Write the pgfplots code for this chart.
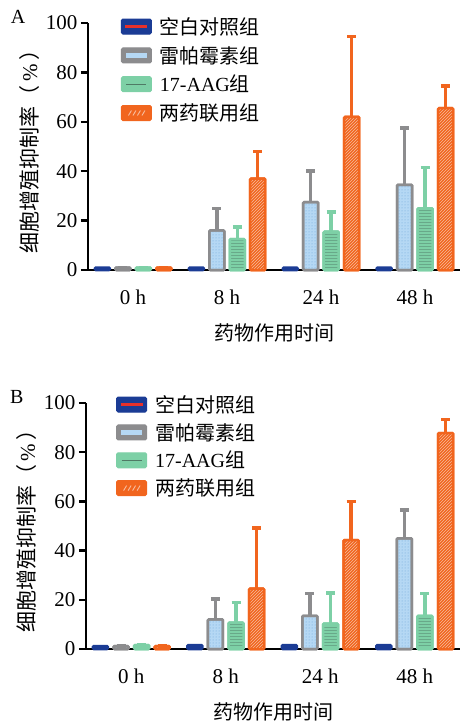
\documentclass[border=0pt]{standalone}
\usepackage{fontspec}
\setmainfont{Liberation Serif}
\newfontfamily\cjk{Noto Sans CJK SC}
\usepackage{pgfplots}
\usepackage{pgfplotstable}
\pgfplotsset{compat=1.18}
\usetikzlibrary{patterns}

\definecolor{cblue}{HTML}{1B3C95}
\definecolor{cred}{HTML}{E8312A}
\definecolor{cgrey}{HTML}{8C8C8E}
\definecolor{clblue}{HTML}{B5D8F4}
\definecolor{cdots}{HTML}{6FA6DA}
\definecolor{cgreen}{HTML}{7DD0A6}
\definecolor{cdgreen}{HTML}{4F7A65}
\definecolor{corange}{HTML}{F1651E}
\definecolor{chatch}{HTML}{F7BC9E}

\pgfplotstableread{
x blank rapa rapaE aag aagE combo comboE
0 1   1  0   1  0   1  0
1 1   16 9   12.5 5 37 11
2 1   27.5 12.5 15.5 8 62 32.5
3 1   34.5 23  25 16.5 65.5 9
}\dataA

\pgfplotstableread{
x blank rapa rapaE aag aagE combo comboE
0 1.2 1.2 0  1.6 0  1.2 0
1 1.6 12 8.3 10.7 8.3 24.5 24.7
2 1.6 13.5 9  10.3 12.5 44.3 15.7
3 1.6 45 11.5 13.5 9 87.8 5.5
}\dataB

\newcommand\fs{\fontsize{20}{23}\selectfont}
\newcommand\fst{\fontsize{21}{24}\selectfont}
\newcommand\fsl{\fontsize{21}{24}\selectfont}

\pgfplotsset{
  common/.style={
    anchor=south west, scale only axis, clip=false,
    ymin=0, ymax=100, xmin=-0.48, xmax=3.48,
    axis x line=bottom, axis y line=left,
    axis line style={-, line width=2.5pt},
    ytick={0,20,...,100}, xtick={0,1,2,3},
    xticklabels={0 h, 8 h, 24 h, 48 h},
    major tick length=7pt, tick align=outside,
    y tick style={line width=2.5pt, black},
    x tick style={draw=none},
    xticklabel style={yshift=-9pt},
    font=\fs, tick label style={font=\fst},
    /pgf/number format/assume math mode=true,
    xlabel={\cjk 药物作用时间},
    ylabel={{\cjk 细胞增殖抑制率（}\,\%\,{\cjk ）}},
    xlabel style={at={(axis description cs:0.5,-0.255)}, anchor=center},
    ylabel style={at={(axis description cs:-0.158,0.5)}, anchor=center, font=\fsl},
    legend style={draw=none, fill=none, anchor=north west, inner sep=0pt,
      row sep=6.5pt, font=\fs, legend cell align=left,
      nodes={inner xsep=8pt}},
    legend cell align=left,
  },
  ebar/.style={
    error bars/y dir=plus, error bars/y explicit,
    error bars/error bar style={#1, line width=3.5pt},
    error bars/error mark options={#1, rotate=90, line width=3.5pt, mark size=4.5pt}},
  barbase/.style={ybar, bar width=15pt, bar shift=0pt, line width=2.5pt, rounded corners=1pt, forget plot},
  blankst/.style={barbase, fill=cblue, draw=cblue},
  rapast/.style={barbase, fill=clblue, draw=cgrey,
    postaction={pattern=dots, pattern color=cdots}, ebar=cgrey},
  aagst/.style={barbase, fill=cgreen, draw=cgreen,
    postaction={pattern=horizontal lines, pattern color=cdgreen!45!cgreen}, ebar=cgreen},
  combost/.style={barbase, fill=corange, draw=corange,
    postaction={pattern=north east lines, pattern color=chatch}, ebar=corange},
  legblank/.style={legend image code/.code={
      \draw[fill=cblue,draw=cblue,line width=1pt,rounded corners=1.5pt] (0pt,-7.5pt) rectangle (30pt,7.5pt);
      \draw[cred,line width=3pt] (4pt,0pt)--(26pt,0pt);}},
  legrapa/.style={legend image code/.code={
      \draw[fill=cgrey,draw=cgrey,line width=1pt,rounded corners=1.5pt] (0pt,-7.5pt) rectangle (30pt,7.5pt);
      \fill[clblue] (5pt,-2pt) rectangle (25pt,2pt);}},
  legaag/.style={legend image code/.code={
      \draw[fill=cgreen,draw=cgreen,line width=1pt,rounded corners=1.5pt] (0pt,-7.5pt) rectangle (30pt,7.5pt);
      \draw[cdgreen,line width=1.3pt] (5pt,0pt)--(25pt,0pt);}},
  legcombo/.style={legend image code/.code={
      \draw[fill=corange,draw=corange,line width=1pt,rounded corners=1.5pt] (0pt,-7.5pt) rectangle (30pt,7.5pt);
      \draw[chatch,line width=0.9pt] (7pt,-2.5pt)--(10pt,2.5pt) (11.5pt,-2.5pt)--(14.5pt,2.5pt)
        (16pt,-2.5pt)--(19pt,2.5pt) (20.5pt,-2.5pt)--(23.5pt,2.5pt);}},
}

\begin{document}
\begin{tikzpicture}
\path[use as bounding box] (0pt,0pt) rectangle (460pt,-721pt);

\begin{axis}[common, at={(88pt,-270pt)}, width=372pt, height=247pt,
  legend style={at={(axis description cs:0.088,1.032)}}]
\addplot[blankst] table[x expr=\thisrow{x}-0.327,y=blank]{\dataA};
\addplot[rapast] table[x expr=\thisrow{x}-0.109,y=rapa,y error=rapaE]{\dataA};
\addplot[aagst] table[x expr=\thisrow{x}+0.109,y=aag,y error=aagE]{\dataA};
\addplot[combost] table[x expr=\thisrow{x}+0.327,y=combo,y error=comboE]{\dataA};
\addlegendimage{legblank}\addlegendentry{{\cjk 空白对照组}}
\addlegendimage{legrapa}\addlegendentry{{\cjk 雷帕霉素组}}
\addlegendimage{legaag}\addlegendentry{17-AAG{\cjk 组}}
\addlegendimage{legcombo}\addlegendentry{{\cjk 两药联用组}}
\node[anchor=center, font=\fs] at (axis description cs:-0.188,1.024) {A};
\end{axis}

\begin{axis}[common, at={(86pt,-649pt)}, width=374pt, height=246pt,
  legend style={at={(axis description cs:0.08,1.04)}, row sep=5.5pt}]
\addplot[blankst] table[x expr=\thisrow{x}-0.327,y=blank]{\dataB};
\addplot[rapast] table[x expr=\thisrow{x}-0.109,y=rapa,y error=rapaE]{\dataB};
\addplot[aagst] table[x expr=\thisrow{x}+0.109,y=aag,y error=aagE]{\dataB};
\addplot[combost] table[x expr=\thisrow{x}+0.327,y=combo,y error=comboE]{\dataB};
\addlegendimage{legblank}\addlegendentry{{\cjk 空白对照组}}
\addlegendimage{legrapa}\addlegendentry{{\cjk 雷帕霉素组}}
\addlegendimage{legaag}\addlegendentry{17-AAG{\cjk 组}}
\addlegendimage{legcombo}\addlegendentry{{\cjk 两药联用组}}
\node[anchor=center, font=\fs] at (axis description cs:-0.185,1.025) {B};
\end{axis}
\end{tikzpicture}
\end{document}
